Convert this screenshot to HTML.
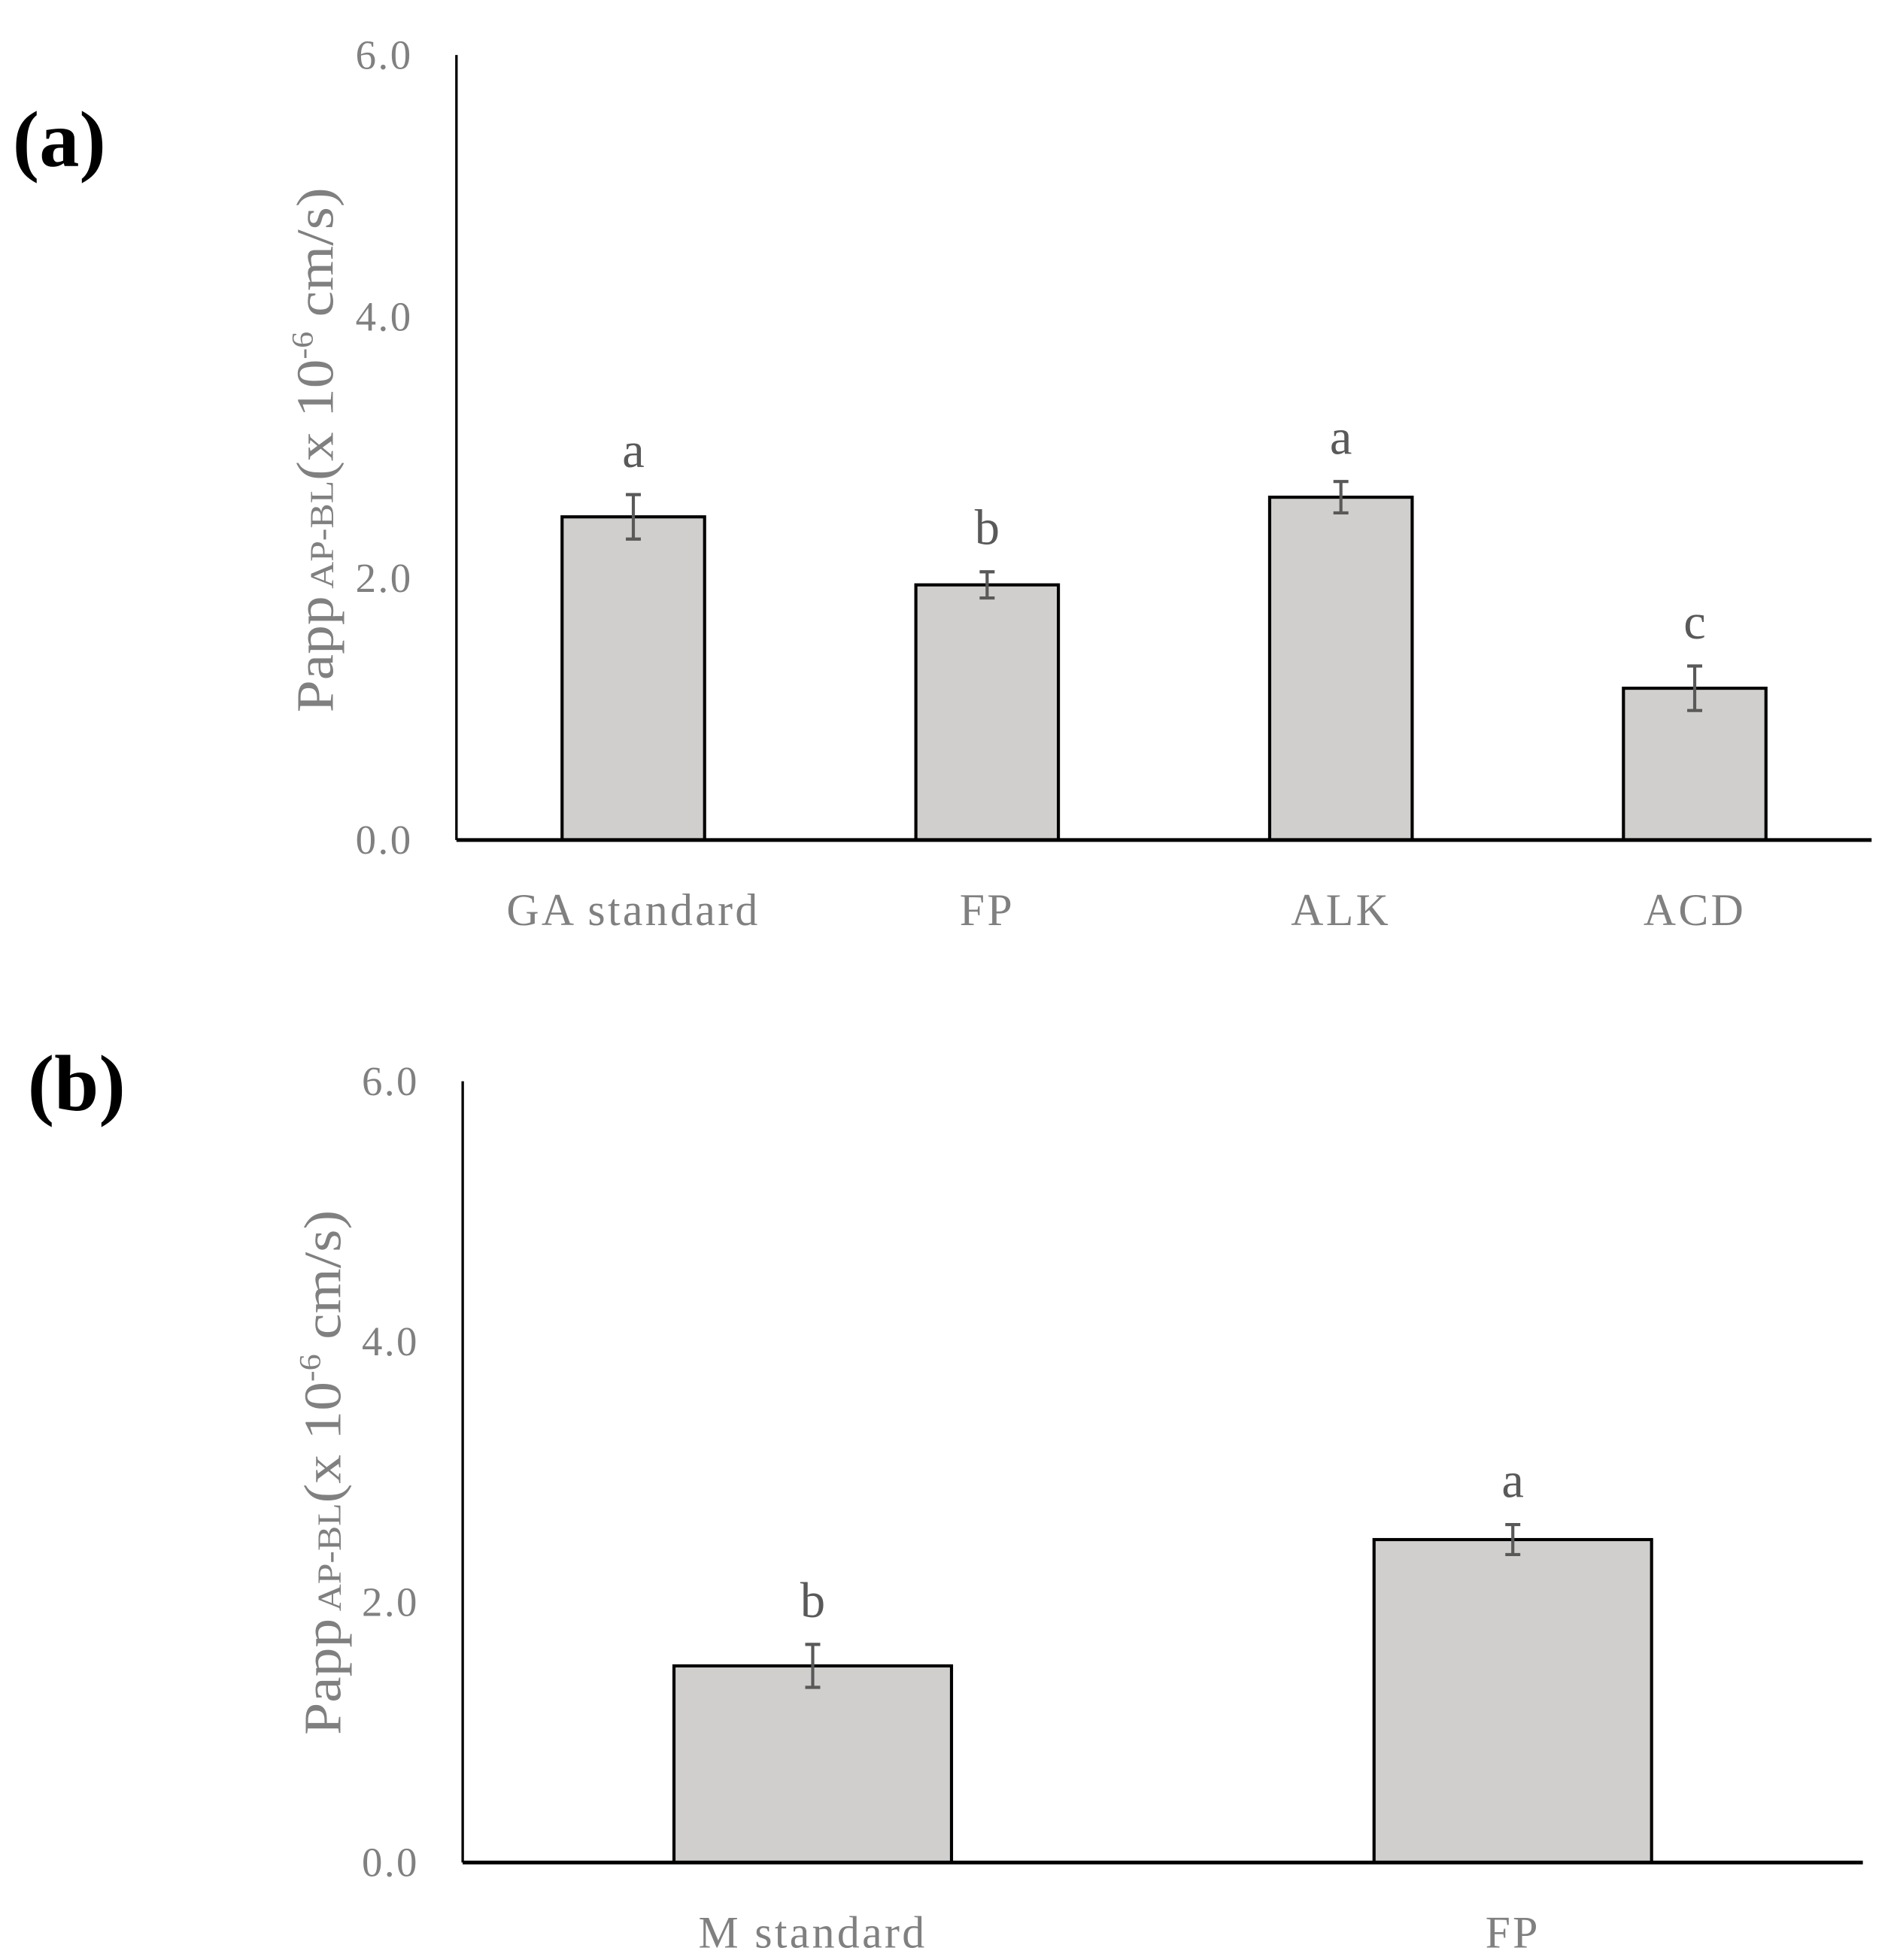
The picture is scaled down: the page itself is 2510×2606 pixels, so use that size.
<!DOCTYPE html>
<html><head><meta charset="utf-8"><style>
html,body{margin:0;padding:0;background:#fff;}
svg{display:block;}
text{font-family:"Liberation Serif",serif;}
</style></head><body>
<svg id="chart" width="2510" height="2606" viewBox="0 0 1510 1568" xmlns="http://www.w3.org/2000/svg">
<g id="pa"></g>
<g id="pb"></g>
</svg>
<script>
const catsA = ["GA standard","FP","ALK","ACD"];
const valsA = [2.47,1.95,2.62,1.16];
const errsA = [0.17,0.10,0.12,0.17];
const letsA = ["a","b","a","c"];
const catsB = ["M  standard","FP"];
const valsB = [1.51,2.48];
const errsB = [0.165,0.115];
const letsB = ["b","a"];
const ticks = [0,2,4,6];
const tickLabels = ["0.0","2.0","4.0","6.0"];
const NS="http://www.w3.org/2000/svg";
function mk(tag,attrs,parent){const e=document.createElementNS(NS,tag);for(const k in attrs)e.setAttribute(k,attrs[k]);parent.appendChild(e);return e;}
function panel(g,cfg,cats,vals,errs,lets,label){
  const y=v=>cfg.y0-(cfg.y0-cfg.ytop)*v/6;
  const step=(cfg.xr-cfg.x0)/cats.length;
  const x=i=>cfg.x0+step*(i+0.5);
  const pl=mk('text',{x:cfg.lx,y:cfg.ly,'font-size':64,'font-weight':'bold',fill:'#000'},g);
  pl.textContent=label;
  
  
  ticks.forEach((t,i)=>{
    const tl=mk('text',{x:cfg.x0-35,y:y(t)+11,'font-size':33,fill:'#808080','text-anchor':'end','letter-spacing':1.5},g);
    tl.textContent=tickLabels[i];
    
    
  });
  const yt=mk('text',{transform:`translate(${cfg.tx},${cfg.tcy}) rotate(-90)`,'font-size':42,fill:'#808080','text-anchor':'middle',textLength:420,lengthAdjust:'spacingAndGlyphs'},g);
  yt.innerHTML='Papp<tspan font-size="27" dy="0"> AP-BL</tspan><tspan dy="0">(x 10</tspan><tspan font-size="24" dy="-16">-6</tspan><tspan dy="16"> cm/s)</tspan>';
  
  
  vals.forEach((v,i)=>{
    const r=mk('rect',{x:x(i)-cfg.bw/2,y:y(v),width:cfg.bw,height:y(0)-y(v),fill:'#d0cfcd',stroke:'#000','stroke-width':2.5},g);
    
    
    const e=mk('path',{d:`M${x(i)-6},${y(v+errs[i])}H${x(i)+6}M${x(i)},${y(v+errs[i])}V${y(v-errs[i])}M${x(i)-6},${y(v-errs[i])}H${x(i)+6}`,stroke:'#595959','stroke-width':2.5,fill:'none'},g);
    
    
    const lt=mk('text',{x:x(i),y:y(v+errs[i])-22,'font-size':40,fill:'#595959','text-anchor':'middle'},g);
    lt.textContent=lets[i];
    
    
    const cl=mk('text',{x:x(i),y:cfg.y0+68,'font-size':36,fill:'#808080','text-anchor':'middle','letter-spacing':2},g);
    cl.textContent=cats[i];
    
    
  });
  const ya=mk('line',{x1:cfg.x0,y1:cfg.ytop,x2:cfg.x0,y2:cfg.y0,stroke:'#000','stroke-width':2},g);
  
  
  const xa=mk('line',{x1:cfg.x0,y1:cfg.y0,x2:cfg.xr,y2:cfg.y0,stroke:'#000','stroke-width':3},g);
  
  
}
panel(document.getElementById('pa'),{x0:365,xr:1497,y0:672,ytop:44,bw:114,lx:10,ly:133,tx:266,tcy:360},catsA,valsA,errsA,letsA,'(a)');
panel(document.getElementById('pb'),{x0:370,xr:1490,y0:1490,ytop:865,bw:222,lx:22,ly:888,tx:272,tcy:1178},catsB,valsB,errsB,letsB,'(b)');
</script>
</body></html>
